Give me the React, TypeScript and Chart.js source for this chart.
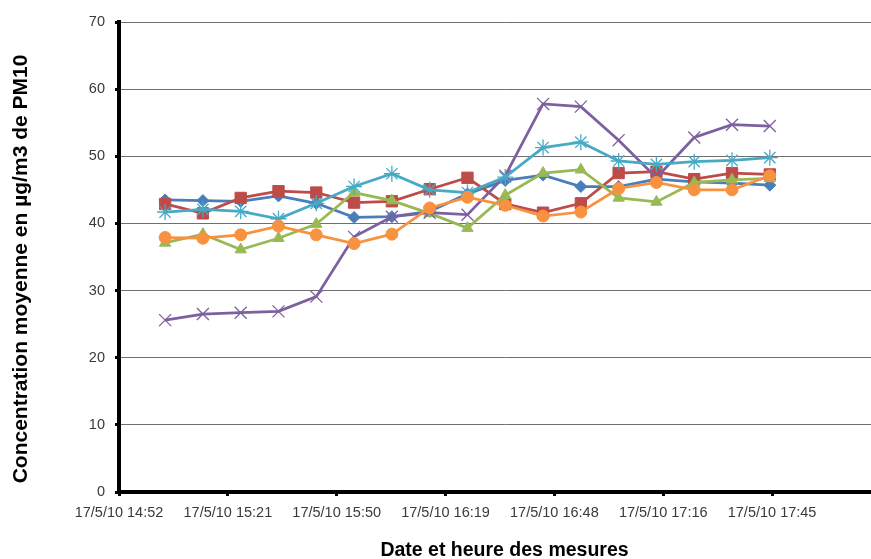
import React, { useEffect, useRef } from "react";
import { Chart, registerables } from "chart.js";

Chart.register(...registerables);

// Measurement times (17/5/10), every 10 minutes
const TIMES = [
  "15:05", "15:15", "15:25", "15:35", "15:45", "15:55", "16:05", "16:15", "16:25",
  "16:35", "16:45", "16:55", "17:05", "17:15", "17:25", "17:35", "17:45",
];

// Excel-style date axis ticks (every 0.02 day = 28.8 min from 0.62 day)
const TICK_MINUTES = [892.8, 921.6, 950.4, 979.2, 1008, 1036.8, 1065.6];
const TICK_LABELS = [
  "17/5/10 14:52", "17/5/10 15:21", "17/5/10 15:50", "17/5/10 16:19",
  "17/5/10 16:48", "17/5/10 17:16", "17/5/10 17:45",
];
const X_MIN = 892.8;
const X_MAX = 1096.8;

const SERIES_BLUE = [43.5, 43.4, 43.3, 44.1, 43.0, 40.9, 41.0, 41.8, 44.4, 46.4, 47.2, 45.5, 45.5, 46.6, 46.2, 46.0, 45.7];
const SERIES_RED = [42.9, 41.5, 43.8, 44.8, 44.6, 43.1, 43.3, 45.1, 46.8, 42.9, 41.6, 43.0, 47.5, 47.7, 46.6, 47.5, 47.3];
const SERIES_GREEN = [37.1, 38.4, 36.1, 37.8, 39.9, 44.6, 43.4, 41.5, 39.3, 44.2, 47.5, 48.0, 43.8, 43.2, 46.1, 46.5, 46.7];
const SERIES_PURPLE = [25.6, 26.5, 26.7, 26.9, 29.1, 38.0, 41.0, 41.6, 41.3, 47.1, 57.8, 57.4, 52.4, 46.8, 52.8, 54.7, 54.5];
const SERIES_CYAN = [41.7, 42.1, 41.8, 40.7, 43.0, 45.5, 47.4, 45.0, 44.6, 46.9, 51.3, 52.1, 49.3, 48.8, 49.2, 49.4, 49.8];
const SERIES_ORANGE = [37.9, 37.8, 38.3, 39.6, 38.3, 37.0, 38.4, 42.3, 43.9, 42.7, 41.1, 41.7, 45.2, 46.1, 45.0, 45.0, 47.1];

const SERIES = [SERIES_BLUE, SERIES_RED, SERIES_GREEN, SERIES_PURPLE, SERIES_CYAN, SERIES_ORANGE];
const NAMES = ["Série 1", "Série 2", "Série 3", "Série 4", "Série 5", "Série 6"];
const COLORS = ["#4A7EBB", "#BE4B48", "#98B954", "#7D60A0", "#46AAC5", "#F69240"];
const MARKERS = ["rectRot", "rect", "triangle", "crossRot", "star", "circle"];
const RADII = [6, 8, 6.5, 8.5, 8, 6];

const Y_TITLE = "Concentration moyenne en µg/m3 de PM10";
const X_TITLE = "Date et heure des mesures";

function toMinutes(t: string): number {
  const [h, m] = t.split(":").map(Number);
  return h * 60 + m;
}

const yTitlePlugin = {
  id: "yTitle",
  afterDraw(chart: any) {
    const ctx = chart.ctx;
    const area = chart.chartArea;
    ctx.save();
    ctx.translate(21, (area.top + area.bottom) / 2 + 12);
    ctx.rotate(-Math.PI / 2);
    ctx.font = "bold 21px 'Liberation Sans', Arial, sans-serif";
    ctx.fillStyle = "#000";
    ctx.textAlign = "center";
    ctx.textBaseline = "middle";
    ctx.fillText(Y_TITLE, 0, 0);
    ctx.restore();
  },
};

export default function App() {
  const ref = useRef<HTMLCanvasElement | null>(null);

  useEffect(() => {
    if (!ref.current) return;
    Chart.defaults.font.family = "'Liberation Sans', Arial, sans-serif";
    const xs = TIMES.map(toMinutes);
    const chart = new Chart(ref.current, {
      type: "line",
      data: {
        datasets: SERIES.map((vals, i) => ({
          label: NAMES[i],
          data: vals.map((v, j) => ({ x: xs[j], y: v })),
          borderColor: COLORS[i],
          backgroundColor: COLORS[i],
          pointBorderColor: COLORS[i],
          pointBackgroundColor: COLORS[i],
          pointStyle: MARKERS[i] as any,
          pointRadius: RADII[i],
          pointBorderWidth: MARKERS[i] === "crossRot" || MARKERS[i] === "star" ? 1.3 : 1,
          borderWidth: 2.75,
          tension: 0,
          fill: false,
          order: NAMES.length - i,
        })),
      },
      options: {
        responsive: false,
        animation: false,
        layout: { autoPadding: false, padding: { top: 22, left: 0, right: 0, bottom: 0 } },
        plugins: { legend: { display: false }, tooltip: { enabled: false } },
        scales: {
          x: {
            type: "linear",
            min: X_MIN,
            max: X_MAX,
            afterBuildTicks: (scale: any) => {
              scale.ticks = TICK_MINUTES.map((v) => ({ value: v }));
            },
            afterFit: (scale: any) => {
              scale.height = 67;
            },
            ticks: {
              autoSkip: false,
              maxRotation: 0,
              minRotation: 0,
              padding: 8,
              color: "#3a3a3a",
              font: { size: 14.5 },
              callback: (_v: any, idx: number) => TICK_LABELS[idx],
            },
            grid: {
              drawOnChartArea: false,
              drawTicks: true,
              tickLength: 4,
              tickWidth: 3,
              tickColor: "#000",
            },
            border: { color: "#000", width: 4 },
            title: {
              display: true,
              text: X_TITLE,
              color: "#000",
              font: { size: 19.5, weight: "bold" },
              padding: { top: 0, bottom: -3 },
            },
          },
          y: {
            min: 0,
            max: 70,
            afterFit: (scale: any) => {
              scale.width = 119;
            },
            ticks: {
              stepSize: 10,
              padding: 10,
              color: "#3a3a3a",
              font: { size: 14.5 },
            },
            grid: {
              color: "#6f6f6f",
              lineWidth: 1,
              drawTicks: true,
              tickLength: 4,
              tickWidth: 3,
              tickColor: "#000",
            },
            border: { color: "#000", width: 4 },
            title: { display: false },
          },
        },
      },
      plugins: [yTitlePlugin],
    });
    return () => chart.destroy();
  }, []);

  return (
    <div
      style={{
        position: "absolute",
        left: 0,
        top: 0,
        width: 871,
        height: 559,
        overflow: "hidden",
        background: "#fff",
      }}
    >
      <canvas ref={ref} width={890} height={559} />
    </div>
  );
}
